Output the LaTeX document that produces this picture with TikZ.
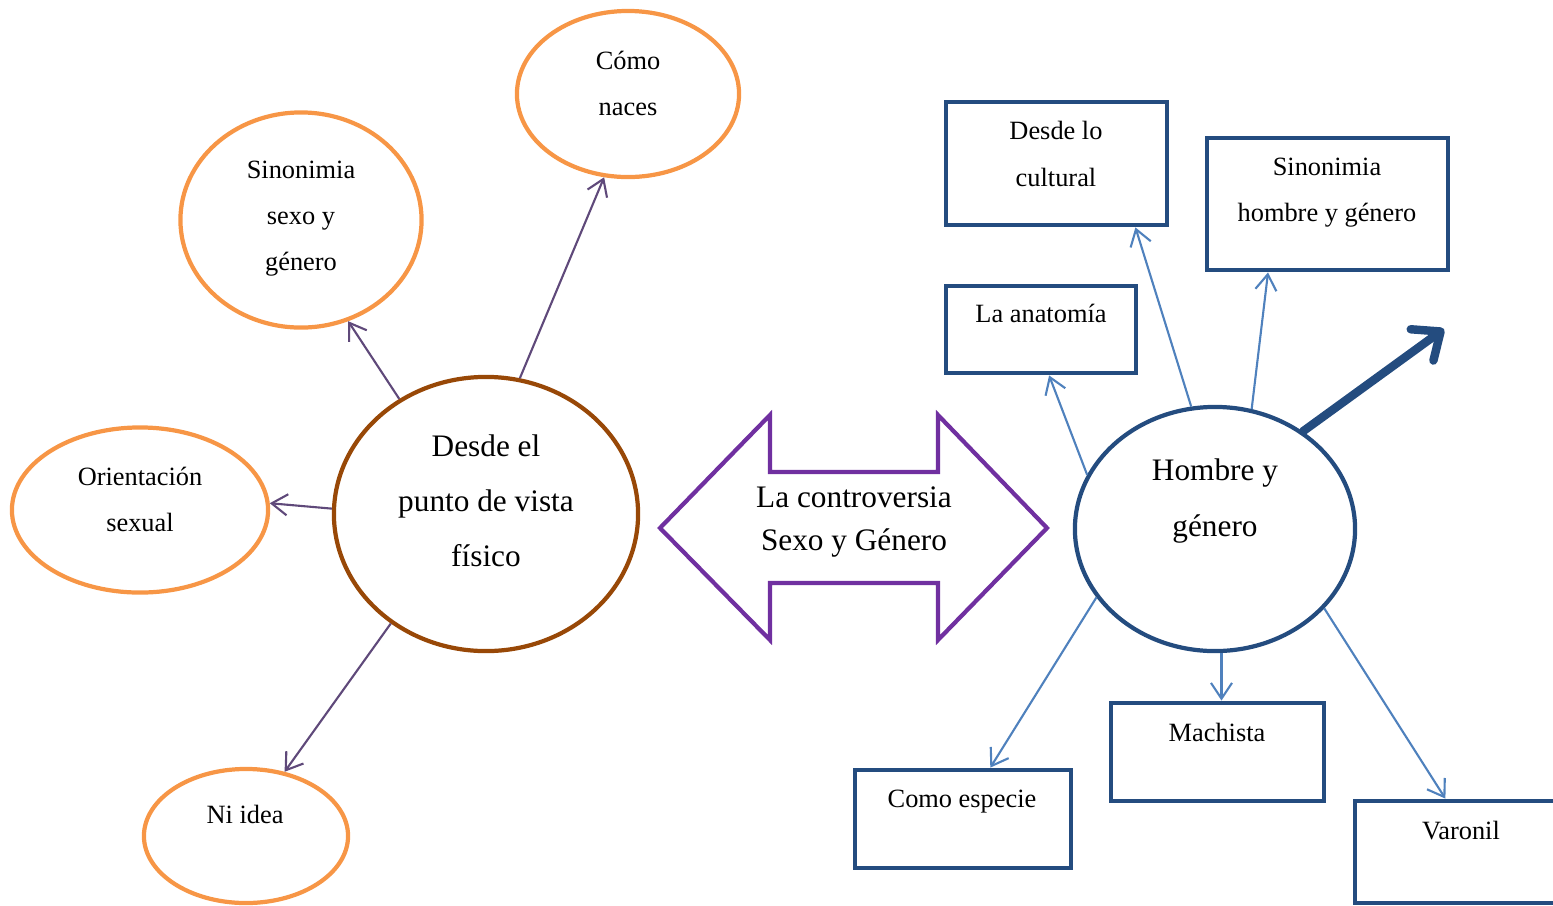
\documentclass[tikz,border=0pt]{standalone}
\usepackage{fontspec}
\setmainfont{Liberation Serif}
\usetikzlibrary{arrows.meta,shapes.geometric}
\definecolor{orangeline}{HTML}{F79646}
\definecolor{brownline}{HTML}{984807}
\definecolor{purpleline}{HTML}{7030A0}
\definecolor{navyline}{HTML}{244C7F}
\definecolor{skyline}{HTML}{4F81BD}
\definecolor{plumline}{HTML}{5F497A}
\tikzset{
  oval/.style={ellipse, draw=orangeline, line width=1.2pt, inner sep=0pt},
  bigoval/.style={ellipse, draw=#1, line width=1.2pt, inner sep=0pt},
  box/.style={rectangle, draw=navyline, line width=1.35pt, inner sep=0pt},
  smalltxt/.style={align=center, inner sep=0pt, font=\fontsize{7.5}{13.1}\selectfont},
  bigtxt/.style={align=center, inner sep=0pt, font=\fontsize{8.9}{15.7}\selectfont},
  leftlink/.style={draw=plumline, line width=0.6pt, -{Straight Barb[length=4.5pt,width=6pt]}},
  rightlink/.style={draw=skyline, line width=0.6pt, -{Straight Barb[length=4.5pt,width=6pt]}},
  boldlink/.style={draw=navyline, line width=2.4pt, line cap=round,
    -{Straight Barb[length=6.5pt,width=11pt,line cap=round,round]}},
}
\begin{document}
\begin{tikzpicture}[x=0.01cm, y=-0.01cm]
\useasboundingbox (0,0) rectangle (1553,905);

% left cluster
\node[bigoval=brownline, minimum width=3.04cm, minimum height=2.74cm] (fis) at (486,514) {};
\node[bigtxt] (fist) at (486,501) {Desde el\\punto de vista\\físico};

\node[oval, minimum width=2.22cm, minimum height=1.66cm] (naces) at (628,94) {};
\node[smalltxt] (nacest) at (628,83) {Cómo\\naces};

\node[oval, minimum width=2.41cm, minimum height=2.15cm] (sino) at (301,220) {};
\node[smalltxt] (sinot) at (301,219) {Sinonimia\\sexo y\\género};

\node[oval, minimum width=2.56cm, minimum height=1.65cm] (orie) at (140,510) {};
\node[smalltxt] (oriet) at (140,499) {Orientación\\sexual};

\node[oval, minimum width=2.04cm, minimum height=1.34cm] (ni) at (246,836) {};
\node[smalltxt] (nit) at (245,814) {Ni idea};

\draw[leftlink] (fis.76) -- (naces.254);
\draw[leftlink] (fis.127) -- (sino.295);
\draw[leftlink] (fis.178) -- (orie.3.5);
\draw[leftlink] (fis.229) -- (ni.59);

% central double arrow
\draw[purpleline, line width=1.2pt, line join=miter]
  (660,528) -- (770,415) -- (770,472) -- (938,472) -- (938,415) -- (1047,528)
  -- (938,640) -- (938,583) -- (770,583) -- (770,640) -- cycle;
\node[bigtxt, font=\fontsize{8.9}{12.5}\selectfont] (contr) at (854,522) {La controversia\\Sexo y Género};

% right cluster
\node[bigoval=navyline, minimum width=2.8cm, minimum height=2.44cm] (hom) at (1215,529) {};
\node[bigtxt] (homt) at (1215,501) {Hombre y\\género};

\node[box, minimum width=2.21cm, minimum height=1.23cm] (cult) at (1056.5,163.5) {};
\node[smalltxt] (cultt) at (1056,154) {Desde lo\\cultural};

\node[box, minimum width=2.41cm, minimum height=1.32cm] (shg) at (1327.5,204) {};
\node[smalltxt] (shgt) at (1327,193) {Sinonimia\\hombre y género};

\node[box, minimum width=1.9cm, minimum height=0.87cm] (anat) at (1041,329.5) {};
\node[smalltxt] (anatt) at (1041,313) {La anatomía};

\node[box, minimum width=2.13cm, minimum height=0.98cm] (mach) at (1217.5,752) {};
\node[smalltxt] (macht) at (1217,732) {Machista};

\node[box, minimum width=2.16cm, minimum height=0.98cm] (esp) at (963,819) {};
\node[smalltxt] (espt) at (962,802) {Como especie};

\node[box, minimum width=2.45cm, minimum height=1.02cm] (var) at (1477.5,852) {};
\node[smalltxt] (vart) at (1461,831) {Varonil};

\coordinate (up) at (1444,329);

\draw[rightlink] (hom.157) -- (anat.280);
\draw[rightlink] (hom.101) -- (cult.321.5);
\draw[rightlink] (hom.73.6) -- (shg.229);
\draw[rightlink] (hom.273) -- (hom.273 |- mach.north);
\draw[rightlink] (hom.210) -- (esp.62);
\draw[rightlink] (hom.324.4) -- (var.121.5);
\draw[boldlink] (hom.48.7) -- (up);
\end{tikzpicture}
\end{document}
